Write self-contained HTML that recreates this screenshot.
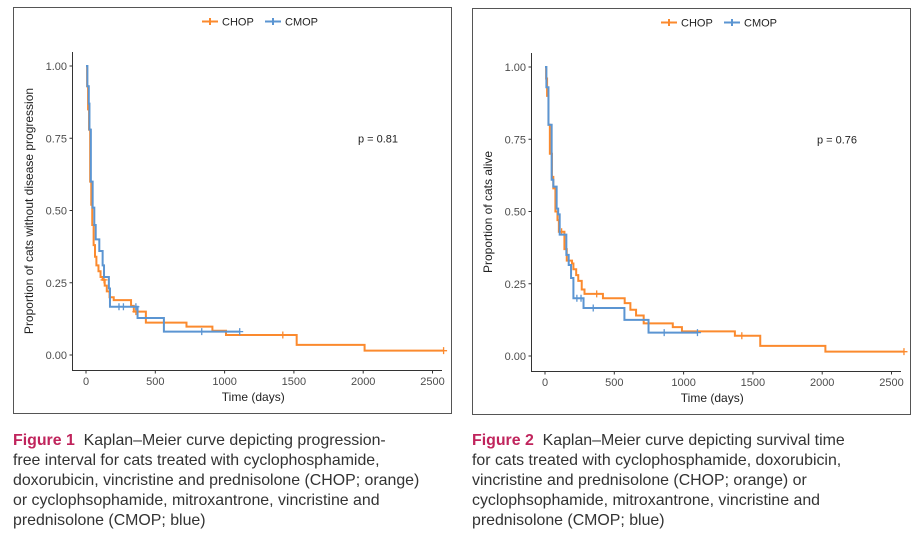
<!DOCTYPE html>
<html><head><meta charset="utf-8"><style>
body{margin:0;background:#fff;width:915px;height:543px;overflow:hidden;font-family:"Liberation Sans",Arial,sans-serif;}
.cap{position:absolute;font-size:15.9px;line-height:20px;color:#333;white-space:nowrap;}
.cap b{color:#c0245c;}
</style></head><body>
<svg id="chart" width="915" height="543" style="position:absolute;left:0;top:0" font-family="Liberation Sans, Arial, sans-serif"></svg>
<div class="cap" style="left:13px;top:431px;"><b>Figure 1</b>&nbsp; Kaplan–Meier curve depicting progression-<br>free interval for cats treated with cyclophosphamide,<br>doxorubicin, vincristine and prednisolone (CHOP; orange)<br>or cyclophsophamide, mitroxantrone, vincristine and<br>prednisolone (CMOP; blue)</div>
<div class="cap" style="left:472px;top:431px;"><b>Figure 2</b>&nbsp; Kaplan–Meier curve depicting survival time<br>for cats treated with cyclophosphamide, doxorubicin,<br>vincristine and prednisolone (CHOP; orange) or<br>cyclophsophamide, mitroxantrone, vincristine and<br>prednisolone (CMOP; blue)</div>
<script>
const xTicks=[0,500,1000,1500,2000,2500];
const yTicks=[0,0.25,0.5,0.75,1];
const yTickLabels=["0.00","0.25","0.50","0.75","1.00"];
// Figure 1 (PFI)
const f1ChopT=[0,8,15,22,30,38,45,55,65,75,90,105,120,135,150,170,200,325,345,432,725,912,1010,1520,2010,2580];
const f1ChopS=[1,0.93,0.85,0.78,0.6,0.52,0.45,0.38,0.34,0.31,0.29,0.27,0.26,0.24,0.22,0.2,0.19,0.17,0.15,0.112,0.098,0.084,0.069,0.035,0.015,0.015];
const f1ChopCens=[130,360,1420,2580];
const f1CmopT=[0,10,20,25,35,48,60,70,96,120,130,165,173,372,562,1109];
const f1CmopS=[1,0.93,0.87,0.78,0.6,0.51,0.45,0.4,0.36,0.31,0.27,0.23,0.167,0.128,0.081,0.081];
const f1CmopCens=[238,270,360,835,1109];
// Figure 2 (OS)
const f2ChopT=[0,8,15,25,35,50,60,75,90,100,140,157,195,205,225,240,265,285,418,575,616,657,712,922,988,1370,1553,2023,2590];
const f2ChopS=[1,0.96,0.9,0.8,0.7,0.62,0.58,0.5,0.47,0.43,0.37,0.33,0.32,0.3,0.28,0.26,0.23,0.215,0.2,0.183,0.16,0.14,0.113,0.1,0.085,0.07,0.035,0.015,0.015];
const f2ChopCens=[120,373,1420,2590];
const f2CmopT=[0,10,25,48,60,84,95,106,154,171,188,205,278,573,747,1100];
const f2CmopS=[1,0.93,0.8,0.61,0.586,0.51,0.49,0.42,0.35,0.315,0.27,0.2,0.166,0.125,0.081,0.081];
const f2CmopCens=[230,260,348,860,1100];

const NS="http://www.w3.org/2000/svg";
const svg=document.getElementById('chart');
function mk(tag,attrs,parent,text){const e=document.createElementNS(NS,tag);for(const k in attrs)e.setAttribute(k,attrs[k]);if(text!==undefined)e.textContent=text;(parent||svg).appendChild(e);return e;}
const ORANGE="#fb8a2e",BLUE="#5b95d2";
function panel(ox,oy,key,ytitle,pval,chopT,chopS,chopC,cmopT,cmopS,cmopC){
  const g=mk('g',{});
  
  
  const box=mk('rect',{x:ox+13.5,y:oy+7.5,width:438,height:406,fill:'none',stroke:'#555','stroke-width':1},g);
  
  
  const X=t=>ox+86+t*0.1386, Y=s=>oy+355-s*289;
  const ax=mk('path',{d:`M${ox+72.5},${oy+52}V${oy+370.5}H${ox+442}`,fill:'none',stroke:'#333','stroke-width':1},g);
  
  
  xTicks.forEach(t=>{mk('line',{x1:X(t),x2:X(t),y1:oy+370.5,y2:oy+373.5,stroke:'#333'},g);
    const tl=mk('text',{x:X(t),y:oy+385,'font-size':11,'text-anchor':'middle',fill:'#4d4d4d'},g,String(t));
    
    });
  yTicks.forEach((v,i)=>{mk('line',{x1:ox+69.5,x2:ox+72.5,y1:Y(v),y2:Y(v),stroke:'#333'},g);
    const tl=mk('text',{x:ox+67,y:Y(v)+4,'font-size':11,'text-anchor':'end',fill:'#4d4d4d'},g,yTickLabels[i]);
    
    });
  const xt=mk('text',{x:X(1250)-6,y:oy+401,'font-size':12,'text-anchor':'middle',fill:'#222'},g,'Time (days)');
  
  
  const yt=mk('text',{x:0,y:0,'font-size':12,'text-anchor':'middle',fill:'#222',transform:`translate(${ox+33},${oy+211}) rotate(-90)`},g,ytitle);
  
  
  const pv=mk('text',{x:ox+378,y:Y(0.75)+4,'font-size':11,'text-anchor':'middle',fill:'#222'},g,pval);
  
  
  function curve(T,S,C,col,name){
    let d=`M${X(T[0])},${Y(S[0])}`;
    for(let i=1;i<T.length;i++){d+=`H${X(T[i])}V${Y(S[i])}`;}
    const p=mk('path',{d,fill:'none',stroke:col,'stroke-width':2},g);
    
    
    C.forEach(c=>{let s=S[0];for(let i=0;i<T.length;i++){if(T[i]<=c)s=S[i];}
      const m=mk('path',{d:`M${X(c)-3.5},${Y(s)}h7M${X(c)},${Y(s)-3.5}v7`,stroke:col,'stroke-width':1.3},g);
      
      });
  }
  curve(chopT,chopS,chopC,ORANGE,'chop');
  curve(cmopT,cmopS,cmopC,BLUE,'cmop');
  const lg=mk('g',{},g);
  
  
  [[ORANGE,'CHOP',ox+202],[BLUE,'CMOP',ox+265]].forEach(([c,l,lx])=>{
    mk('path',{d:`M${lx},${oy+21.5}h16M${lx+8},${oy+18}v7`,stroke:c,'stroke-width':2},lg);
    const tx=mk('text',{x:lx+20,y:oy+25.5,'font-size':11,fill:'#222'},lg,l);
    
    
  });
}
panel(0,0,'figure-1','Proportion of cats without disease progression','p = 0.81',f1ChopT,f1ChopS,f1ChopCens,f1CmopT,f1CmopS,f1CmopCens);
panel(459,1,'figure-2','Proportion of cats alive','p = 0.76',f2ChopT,f2ChopS,f2ChopCens,f2CmopT,f2CmopS,f2CmopCens);
</script>
</body></html>
